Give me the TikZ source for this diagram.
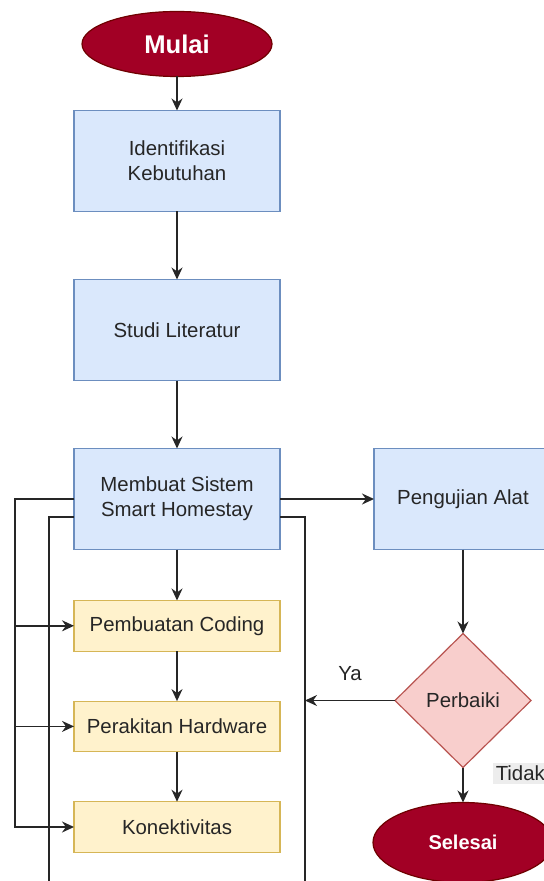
\documentclass[tikz,border=0pt]{standalone}
\usepackage{fontspec}
\setmainfont{Liberation Sans}
\usetikzlibrary{shapes.geometric, arrows.meta, positioning}

\definecolor{procfill}{HTML}{DAE8FC}
\definecolor{procline}{HTML}{6C8EBF}
\definecolor{taskfill}{HTML}{FFF2CC}
\definecolor{taskline}{HTML}{D6B656}
\definecolor{askfill}{HTML}{F8CECC}
\definecolor{askline}{HTML}{B85450}
\definecolor{termfill}{HTML}{A20025}
\definecolor{termline}{HTML}{6F0000}
\definecolor{tagfill}{HTML}{EDEDED}

\begin{document}
\begin{tikzpicture}[
      x=0.5pt, y=-0.5pt,
      txt/.style={font=\fontsize{10.2}{12.5}\selectfont, text=black!85},
      shp/.style={line width=0.6pt, outer sep=0pt},
      proc/.style={rectangle, draw=procline, fill=procfill, shp,
                  minimum height=50.5pt, minimum width=103pt, align=center, txt},
      task/.style={rectangle, draw=taskline, fill=taskfill, shp,
                  minimum height=25.3pt, minimum width=103pt, align=center, txt},
      decide/.style={diamond, draw=askline, fill=askfill, shp,
                  minimum width=68pt, minimum height=67pt, inner sep=0pt, txt},
      term/.style={ellipse, draw=termline, fill=termfill, shp,
                  minimum width=95pt, minimum height=32.5pt, text=white},
      line/.style={line width=0.75pt, black!85},
      arr/.style={line, -{Stealth[length=6pt, width=5.5pt]}}
    ]
    \useasboundingbox (0,0) rectangle (544,881);
    \clip (0,0) rectangle (544,881);

    \node[term, font=\fontsize{12.8}{15}\selectfont\bfseries] (mulai) at (177,44) {Mulai};
    \node[proc, below=17pt of mulai] (ident) {Identifikasi\\Kebutuhan};
    \node[proc, below=34pt of ident] (studi) {Studi Literatur};
    \node[proc, below=34pt of studi] (sistem) {Membuat Sistem\\Smart Homestay};
    \node[task, below=25.5pt of sistem] (coding) {Pembuatan Coding};
    \node[task, below=25pt of coding] (rakit) {Perakitan Hardware};
    \node[task, below=25pt of rakit] (konek) {Konektivitas};
    \node[proc, minimum width=89pt, right=47pt of sistem] (uji) {Pengujian Alat};
    \node[decide, below=42pt of uji] (perbaiki) {Perbaiki};
    \node[term, minimum width=90pt, minimum height=40pt,
          font=\fontsize{10}{12}\selectfont\bfseries, below=17.5pt of perbaiki] (selesai) {Selesai};

    % lines running off the bottom
    \coordinate (downL) at (49,900);
    \coordinate (downR) at (305,900);

    \draw[arr] (mulai) -- (ident);
    \draw[arr] (ident) -- (studi);
    \draw[arr] (studi) -- (sistem);
    \draw[arr] (sistem) -- (coding);
    \draw[arr] (coding) -- (rakit);
    \draw[arr] (rakit) -- (konek);
    \draw[arr] (sistem) -- (uji);
    \foreach \t in {coding, rakit, konek}
      \draw[arr] (sistem.west) -- ++(-59,0) |- (\t.west);
    \draw[line] ([yshift=-9pt]sistem.west) -| (downL);
    \draw[line] ([yshift=-9pt]sistem.east) -| (downR);
    \draw[arr] (uji) -- (perbaiki);
    \draw[arr] (perbaiki) -- (perbaiki -| downR)
      node[midway, above=6pt, txt] {Ya};
    \draw[arr] (perbaiki) -- (selesai)
      node[pos=0.17, right=14.5pt, fill=tagfill, inner sep=1.5pt, txt] {Tidak};
  \end{tikzpicture}
\end{document}
